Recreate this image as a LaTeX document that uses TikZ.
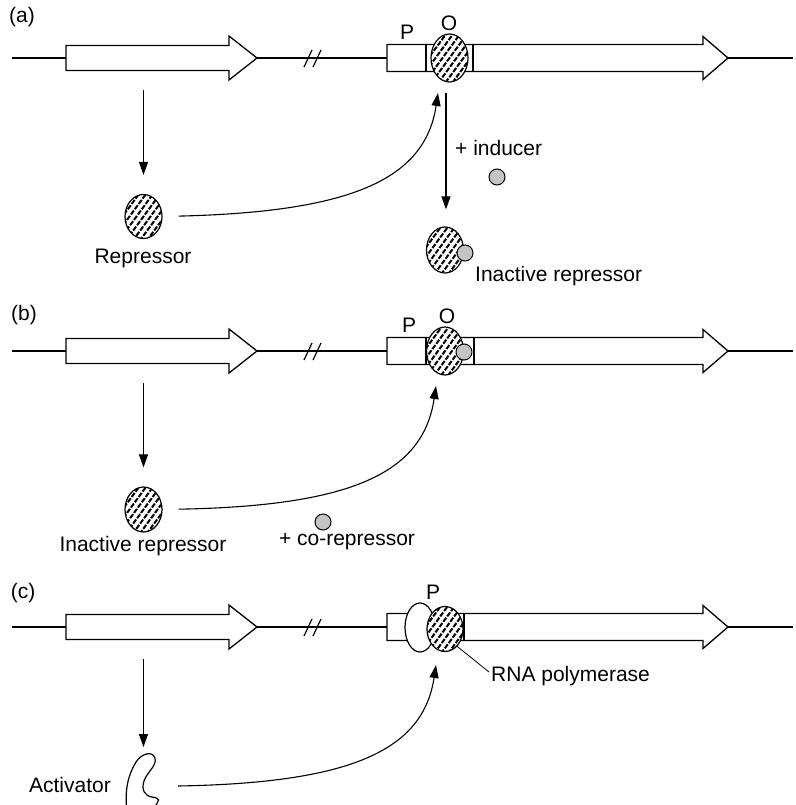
\documentclass[tikz,border=0pt]{standalone}
\usepackage{fontspec}
\setmainfont{Liberation Sans}
\usetikzlibrary{arrows.meta,shapes.geometric,calc}

\definecolor{ligand}{RGB}{196,196,196}

\tikzset{
  dna/.style={line width=1.2pt},
  gene/.style={line width=1.3pt, fill=white},
  arr/.style={line width=1.1pt, -{Triangle[length=13pt,width=9pt]}},
  lbl/.style={font=\fontsize{21}{25}\selectfont, inner sep=0pt},
  hatchell/.style={ellipse, draw, line width=1.2pt, fill=white,
    minimum width=37pt, minimum height=46pt, inner sep=0pt,
    path picture={
      \foreach \k in {-6,...,6}{
        \draw[line width=2pt, dash pattern=on 5pt off 1.6pt]
          ($(path picture bounding box.center)+(\k*7pt-22pt,-30pt)$) -- ++(44pt,60pt);
      }}},
  plainell/.style={ellipse, draw, line width=1.2pt, fill=white,
    minimum width=30pt, minimum height=49pt, inner sep=0pt},
  ligdot/.style={circle, draw, line width=1pt, fill=ligand,
    minimum size=16pt, inner sep=0pt},
  leftgene/.pic={
    \draw[gene] (0,-12.5) -- (163,-12.5) -- (163,-22) -- (191,0) -- (163,22)
      -- (163,12.5) -- (0,12.5) -- cycle;
  },
  slashes/.pic={
    \draw[dna] (0,9) -- (8,-8);
    \draw[dna] (9,9) -- (17,-8);
  },
  rightgene/.pic={
    \draw[gene] (0,-13.5) -- (316,-13.5) -- (316,-21.5) -- (341,0) -- (316,21.5)
      -- (316,13.5) -- (0,13.5) -- cycle;
  },
}

\begin{document}
\begin{tikzpicture}[x=1pt,y=-1pt]
\useasboundingbox (0,0) rectangle (795,805);

% ---------------- (a) negative control, inducible ----------------
\node[lbl] (lab-a) at (22,17) {(a)};
\draw[dna] (12,58) -- (793,58);
\pic at (304,58) {slashes};
\pic at (66,58) {leftgene};
\pic at (387,58) {rightgene};
\draw[gene] (426,44.5) -- (426,71.5);
\draw[gene] (473,44.5) -- (473,71.5);
\node[hatchell, minimum height=48pt] (Oa) at (449.5,58) {};
\node[lbl] (Pa-txt) at (407,32) {P};
\node[lbl] (Oa-txt) at (449,23) {O};

\node[hatchell, minimum height=44pt] (Ra) at (143.5,216.5) {};
\node[lbl] (Ra-txt) at (143,258) {Repressor};
\coordinate (va-top) at (143.5,90);
\draw[arr, shorten >=19pt] (va-top) -- (Ra.north);
\coordinate (ca-tip) at (438,93);
\draw[arr, shorten <=16pt] (Ra.east) .. controls (350,212) and (425,180) .. (ca-tip);

\node[hatchell, minimum height=46pt] (IRa) at (445,250) {};
\node[ligdot] (inda-b) at (465,253) {};
\node[lbl, anchor=west] (IRa-txt) at (475,276) {Inactive repressor};
\coordinate (ia-top) at (446,93);
\draw[arr, shorten >=17pt] (ia-top) -- (ia-top |- IRa.north);
\node[lbl, anchor=west] (inda-txt) at (455,148) {+ inducer};
\node[ligdot] (inda) at (497,177) {};

% ---------------- (b) negative control, repressible ----------------
\node[lbl] (lab-b) at (24,315) {(b)};
\draw[dna] (12,351) -- (793,351);
\pic at (304,351) {slashes};
\pic at (66,351) {leftgene};
\pic at (387,351) {rightgene};
\draw[gene] (426,337.5) -- (426,364.5);
\draw[gene] (474,337.5) -- (474,364.5);
\node[hatchell, minimum height=48pt] (Ob) at (445,351) {};
\node[ligdot] (corb-b) at (464,352) {};
\node[lbl] (Pb-txt) at (409,325) {P};
\node[lbl] (Ob-txt) at (447,316) {O};

\node[hatchell, minimum height=45pt] (Rb) at (143.5,509.5) {};
\node[lbl] (Rb-txt) at (143,546) {Inactive repressor};
\coordinate (vb-top) at (143.5,383);
\draw[arr, shorten >=19pt] (vb-top) -- (Rb.north);
\coordinate (cb-tip) at (436,386);
\draw[arr, shorten <=16pt] (Rb.east) .. controls (350,506) and (423,474) .. (cb-tip);
\node[ligdot] (corb) at (323,522) {};
\node[lbl] (corb-txt) at (347,542) {+ co-repressor};

% ---------------- (c) positive control ----------------
\node[lbl] (lab-c) at (23,593) {(c)};
\draw[dna] (12,627) -- (793,627);
\pic at (304,627) {slashes};
\pic at (66,627) {leftgene};
\pic at (387,627) {rightgene};
\draw[gene] (464,613.5) -- (464,640.5);
\node[plainell] (Pc) at (420,627.5) {};
\node[hatchell, minimum width=36pt, minimum height=45pt] (Pol) at (445,629) {};
\node[lbl] (Pc-txt) at (433,592) {P};
\coordinate (pol-end) at (489,672);
\draw[line width=0.8pt] (Pol.-55) -- (pol-end);
\node[lbl, anchor=west] (Pol-txt) at (491,676) {RNA polymerase};

\coordinate (vc-top) at (143.5,659);
\coordinate (vc-tip) at (143.5,747);
\draw[arr] (vc-top) -- (vc-tip);
\node[lbl, anchor=east] (Act-txt) at (111,785) {Activator};
\draw[line width=1.2pt] (126.5,806) .. controls (125,790) and (128,775) .. (136,762)
  .. controls (141,754) and (152,750) .. (155,758)
  .. controls (157,766) and (147,772) .. (144,781)
  .. controls (141,790) and (145,796) .. (152,797)
  .. controls (156,797.5) and (158,798.5) .. (158.5,800)
  .. controls (158,803) and (156,805) .. (155,806);
\coordinate (cc-tip) at (436,665);
\draw[arr] (178,786) .. controls (350,783) and (423,751) .. (cc-tip);
\end{tikzpicture}
\end{document}
